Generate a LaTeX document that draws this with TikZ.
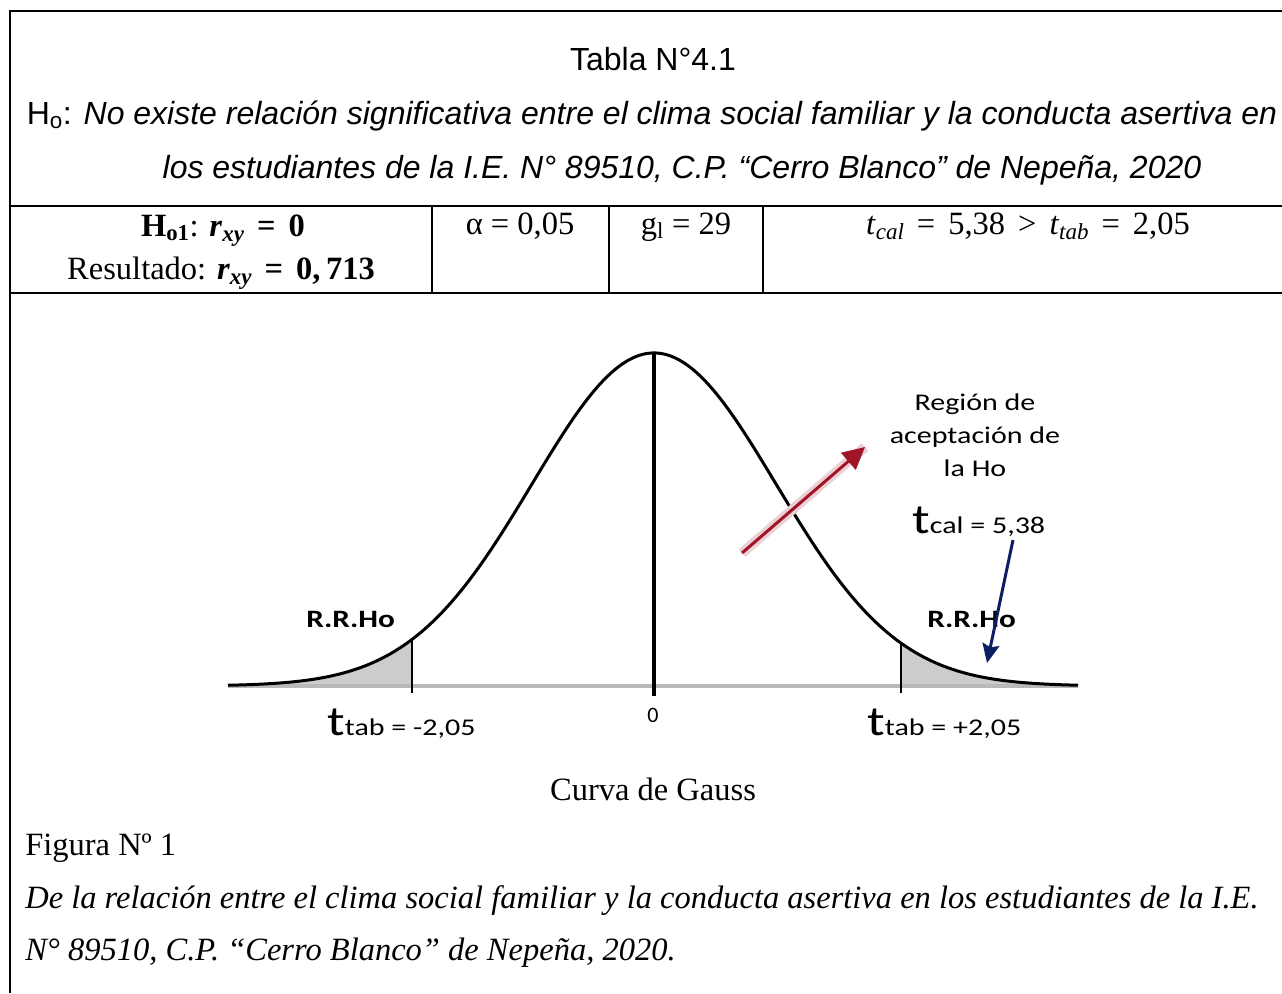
\RequirePackage{fix-cm}
\documentclass[tikz,border=0pt]{standalone}
\usepackage{amsmath}
\usepackage{fontspec}
\setmainfont{Liberation Serif}
\newfontfamily\arialfont{Liberation Sans}
\newfontfamily\calfont{Carlito}
\usetikzlibrary{arrows.meta}
\definecolor{flecharoja}{RGB}{160,22,40}
\definecolor{flechaazul}{RGB}{12,30,100}
\newcommand{\ancho}[1]{\scalebox{1.25}[1]{#1}}
\newcommand{\tg}{{\fontsize{42}{42}\selectfont t}}
\newcommand{\vsub}[2]{\textit{#1}\raisebox{-0.35ex}{\fontsize{23}{23}\selectfont\textit{#2}}}
\newcommand{\rel}[1]{\hspace{0.4em}#1\hspace{0.4em}}
\newcommand{\campana}[1]{686-333*exp(-0.5*((#1-654)/122)*((#1-654)/122))}

\begin{document}
\begin{tikzpicture}[x=1pt, y=-1pt, inner sep=0pt, semithick,
	marco/.style={line width=2pt},
	hdr/.style={font=\arialfont\fontsize{32}{36}\selectfont, anchor=base},
	celda/.style={font=\fontsize{32.5}{36}\selectfont, anchor=base},
	pie/.style={font=\fontsize{32.5}{36}\selectfont, anchor=base west},
	etiq/.style={font=\calfont\fontsize{24}{33}\selectfont, anchor=base west}]
		\useasboundingbox (0,0) rectangle (1282,993);
		
		% tabla
		\draw[marco] (10,993) -- (10,11) -- (1282,11);
		\draw[marco] (10,206) -- (1282,206) (10,293) -- (1282,293);
		\draw[line width=1.4pt] (432,206) -- (432,293) (609,206) -- (609,293) (763,206) -- (763,293);
		
		\node[hdr]	(tabla) at (653,70) {Tabla N°4.1};
		\node[hdr]	(ho1) at (652,124) {H\textsubscript{o}: \textit{No existe relación significativa entre el clima social familiar y la conducta asertiva en}};
		\node[hdr]	(ho2) at (682,178) {\textit{los estudiantes de la I.E. N° 89510, C.P. “Cerro Blanco” de Nepeña, 2020}};
		
		\node[celda]	(h01) at (223,236) {\textbf{H\textsubscript{o1}}: \textbf{\vsub{r}{xy}\rel{=}0}};
		\node[celda]	(res) at (221,279) {Resultado: \textbf{\vsub{r}{xy}\rel{=}0,\,713}};
		\node[celda]	(alfa) at (520,234) {α = 0,05};
		\node[celda]	(gl) at (686,234) {g\textsubscript{l} = 29};
		\node[celda]	(tcal) at (1028,234) {\vsub{t}{cal}\rel{=}5,38\rel{>}\vsub{t}{tab}\rel{=}2,05};
		
		% curva
		\fill[gray!40] (228,686) -- plot[domain=228:412, samples=40] (\x,{\campana{\x}}) -- (412,686) -- cycle;
		\fill[gray!40] (901,686) -- plot[domain=901:1078, samples=40] (\x,{\campana{\x}}) -- (1078,686) -- cycle;
		\draw[gray!55, line width=3.5pt] (228,686) -- (1078,686);
		\draw[line width=3pt, smooth] plot[domain=228:1078, samples=150] (\x,{\campana{\x}});
		\draw[line width=1.2pt] (412,{\campana{412}}) -- (412,693) (901,{\campana{901}}) -- (901,693);
		\draw[line width=4pt] (654,353) -- (654,696);
		
		\node[etiq, anchor=center, align=center]	(region) at (975,435) {\ancho{Región de}\\\ancho{aceptación de}\\\ancho{la Ho}};
		\node[etiq]	(tc) at (912,533) {\ancho{\tg cal = 5,38}};
		\node[etiq, font=\calfont\bfseries\fontsize{25}{28}\selectfont]	(rri) at (306,627) {\ancho{R.R.Ho}};
		\node[etiq, font=\calfont\bfseries\fontsize{25}{28}\selectfont]	(rrd) at (927,627) {\ancho{R.R.Ho}};
		\node[etiq]	(tti) at (327,735) {\ancho{\tg tab = -2,05}};
		\node[etiq]	(ttd) at (867,735) {\ancho{\tg tab = +2,05}};
		\node[etiq, anchor=center, font=\calfont\fontsize{22}{24}\selectfont]	(cero) at (653,715) {0};
		
		\coordinate (rojoA) at (742,553);
		\coordinate (rojoB) at (865,447);
		\coordinate (azulA) at (1013,540);
		\coordinate (azulB) at (987,663);
		\draw[flecharoja!20, line width=10pt] (rojoA) -- (rojoB);
		\draw[flecharoja, line width=3pt, -{Triangle[length=22pt, width=22pt]}] (rojoA) -- (rojoB);
		\draw[flechaazul, line width=3pt, -{Stealth[length=19pt, width=17pt, inset=3pt]}] (azulA) -- (azulB);
		
		% pie
		\node[celda]	(gauss) at (653,800) {Curva de Gauss};
		\node[pie]	(fig) at (25,855) {Figura Nº 1};
		\node[pie]	(desc1) at (25,908) {\textit{De la relación entre el clima social familiar y la conducta asertiva en los estudiantes de la I.E.}};
		\node[pie]	(desc2) at (25,960) {\textit{N° 89510, C.P. “Cerro Blanco” de Nepeña, 2020.}};
\end{tikzpicture}
\end{document}
